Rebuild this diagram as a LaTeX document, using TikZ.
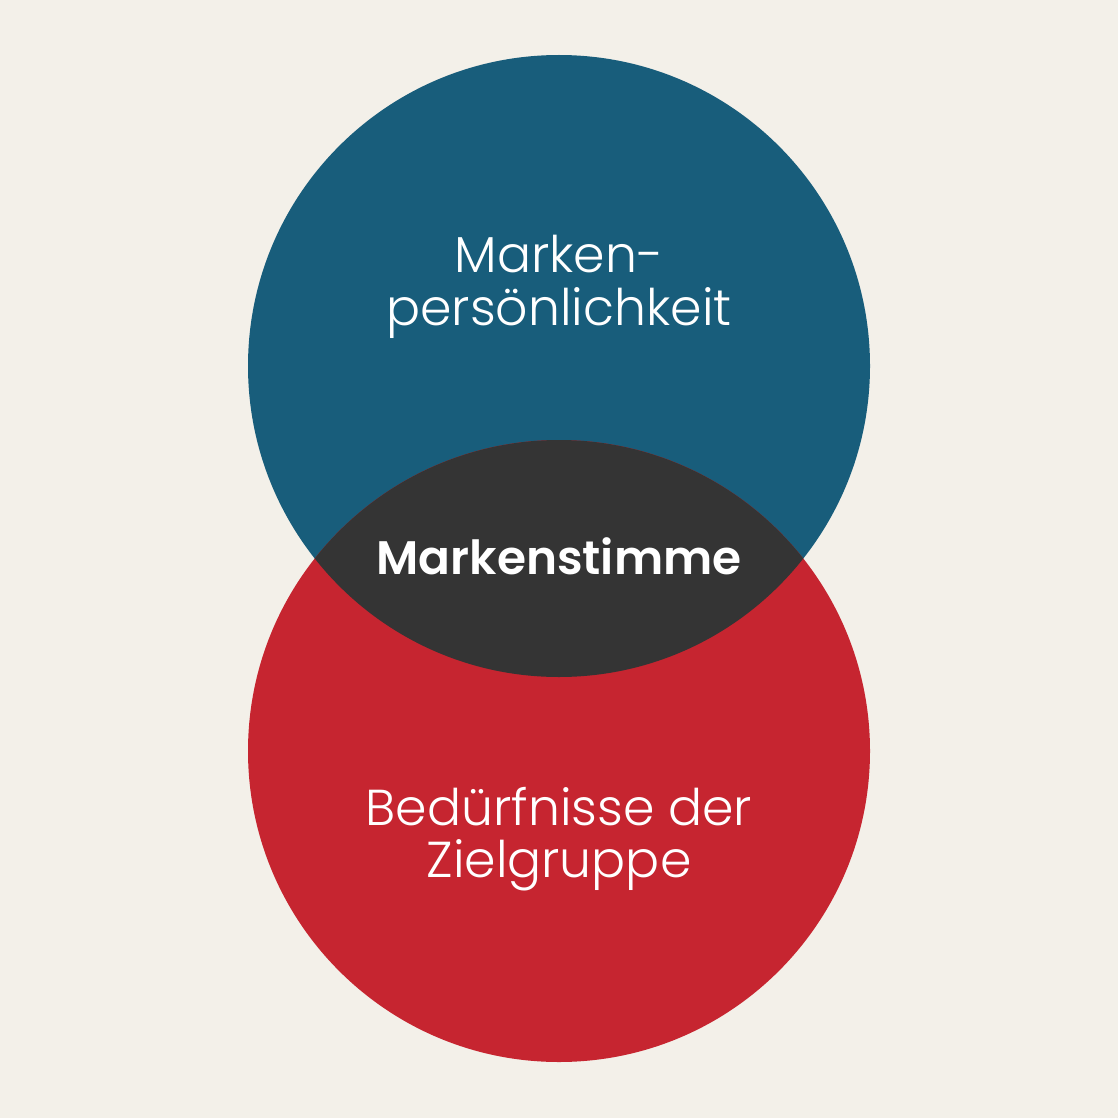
\documentclass[tikz,border=0pt]{standalone}
\usepackage{fontspec}
\setmainfont{Poppins}[UprightFont=* Light, BoldFont=* SemiBold]
\definecolor{bg}{HTML}{F3F0E9}
\definecolor{cblue}{HTML}{185D7B}
\definecolor{cred}{HTML}{C62530}
\definecolor{cdark}{HTML}{343434}
\tikzset{
  lbl/.style={text=white, anchor=base, inner sep=0pt, font=\fontsize{50.5}{54}\selectfont},
  blbl/.style={text=white, anchor=base, inner sep=0pt, font=\fontsize{47}{50}\selectfont\bfseries},
}
\begin{document}
\begin{tikzpicture}[x=1pt,y=-1pt]
\useasboundingbox (0,0) rectangle (1118,1118);
\fill[bg] (0,0) rectangle (1118,1118);
\coordinate (cb) at (559,366);
\coordinate (cr) at (559,751);
\fill[cblue] (cb) circle[radius=311];
\fill[cred] (cr) circle[radius=311];
\begin{scope}
  \clip (cb) circle[radius=311];
  \fill[cdark] (cr) circle[radius=311];
\end{scope}
\node[lbl] (t1) at (559,272) {Marken-};
\node[lbl] (t2) at (559,325) {persönlichkeit};
\node[blbl] (t3) at (559,574) {Markenstimme};
\node[lbl] (t4) at (559,825) {Bedürfnisse der};
\node[lbl] (t5) at (559,877) {Zielgruppe};
\end{tikzpicture}
\end{document}
